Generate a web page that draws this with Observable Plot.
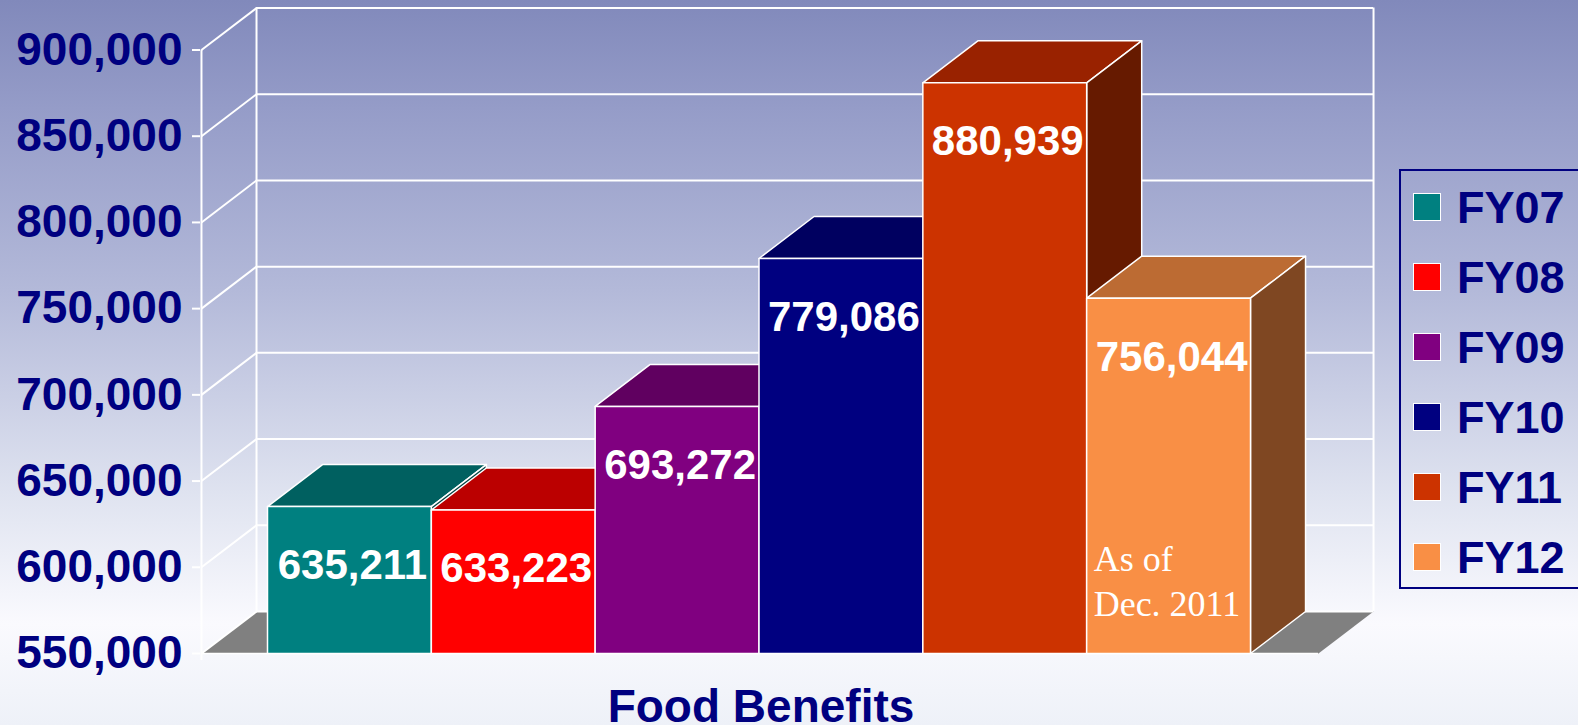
<!DOCTYPE html>
<html>
<head>
<meta charset="utf-8">
<script src="https://cdn.jsdelivr.net/npm/d3@7"></script>
<script src="https://cdn.jsdelivr.net/npm/@observablehq/plot@0.6"></script>
<style>
  html, body { margin: 0; padding: 0; overflow: hidden; background: #eef1f8; }
  #wrap {
    position: relative; width: 1578px; height: 725px; overflow: hidden;
    background: linear-gradient(to bottom, #8189bb 0%, #959cc8 15%, #b3b9d9 40%, #dfe3f0 68%, #fafafe 86%, #eef1f8 100%);
    font-family: "Liberation Sans", Arial, sans-serif;
  }
  #chart { position: absolute; left: 0; top: 0; width: 1578px; height: 672px; }
  #chart svg { max-width: none !important; width: 1578px; height: 672px; }
  #title {
    position: absolute; left: 0; width: 1522px; top: 688px; text-align: center;
    font-size: 46px; line-height: 36px; font-weight: bold; color: #000080;
  }
  #legend {
    position: absolute; left: 1399px; top: 169px; width: 200px; height: 420px;
    border: 2px solid #000080; box-sizing: border-box; padding-top: 2px;
  }
  .row { position: relative; height: 70px; }
  .sw { position: absolute; left: 12px; top: 20px; width: 28px; height: 28px; box-sizing: border-box; border: 1.5px solid #fff; }
  .lb { position: absolute; left: 56px; top: 12px; font-size: 45px; line-height: 45px; font-weight: bold; color: #000080; }
</style>
</head>
<body>
<div id="wrap">
  <div id="chart"></div>
  <div id="legend"></div>
  <div id="title">Food Benefits</div>
</div>
<script>
const categories = ["FY07", "FY08", "FY09", "FY10", "FY11", "FY12"];
const values = [635211, 633223, 693272, 779086, 880939, 756044];
const frontColors = ["#008080", "#FF0000", "#800080", "#000080", "#CC3300", "#F98F45"];
const topColors = ["#006060", "#BB0000", "#600060", "#000060", "#992200", "#BC6B33"];
const sideColors = ["#004040", "#800000", "#400040", "#000040", "#661A00", "#7F4722"];
const yTicks = [550000, 600000, 650000, 700000, 750000, 800000, 850000, 900000];
const notes = ["", "", "", "", "", "As of\nDec. 2011"];
const title = "Food Benefits";

const BASE = 550000;
const FL = -0.403, FR = 6.415;   // floor extent in bar units
const DX = 0.336;                 // depth offset, bar units
const DY = 24358;                 // depth offset, value units

const fmt = d3.format(",");
const bars = categories.map((c, i) => ({c, i, v: values[i], front: frontColors[i], top: topColors[i], side: sideColors[i], note: notes[i]}));

const poly = (pts, fill) => Plot.line(pts.map(([x, y]) => ({x, y})), {
  x: "x", y: "y", fill, stroke: "white", strokeWidth: 1.5, strokeLinejoin: "round", curve: "linear-closed"
});

const marks = [];
// floor
marks.push(Plot.line([[FL, BASE], [FR, BASE], [FR + DX, BASE + DY], [FL + DX, BASE + DY]].map(([x, y]) => ({x, y})),
  {x: "x", y: "y", fill: "#808080", stroke: "none", curve: "linear-closed"}));
// back wall grid
marks.push(Plot.ruleY(yTicks, {y: (t) => t + DY, x1: FL + DX, x2: FR + DX, stroke: "white", strokeWidth: 2}));
// side wall diagonals
marks.push(Plot.link(yTicks, {x1: FL, y1: (t) => t, x2: FL + DX, y2: (t) => t + DY, stroke: "white", strokeWidth: 2}));
// wall edges
marks.push(Plot.ruleX([FL + DX, FR + DX], {x: (d) => d, y1: BASE + DY, y2: yTicks[yTicks.length - 1] + DY, stroke: "white", strokeWidth: 2}));
marks.push(Plot.ruleX([FL], {x: (d) => d, y1: BASE - 4000, y2: yTicks[yTicks.length - 1], stroke: "white", strokeWidth: 2}));
marks.push(Plot.ruleY([BASE], {x1: FL, x2: FR, stroke: "white", strokeWidth: 1.5}));
// bars: top, side, front, left to right
for (const b of bars) {
  const x0 = b.i, x1 = b.i + 1, v = b.v;
  marks.push(poly([[x0, v], [x1, v], [x1 + DX, v + DY], [x0 + DX, v + DY]], b.top));
  marks.push(poly([[x1, BASE], [x1 + DX, BASE + DY], [x1 + DX, v + DY], [x1, v]], b.side));
  marks.push(poly([[x0, BASE], [x1, BASE], [x1, v], [x0, v]], b.front));
}
// value labels
marks.push(Plot.text(bars, {
  x: (d) => d.i + 0.5, y: "v", text: (d) => fmt(d.v), dx: 3, dy: 59,
  fill: "white", fontSize: 42, fontWeight: "bold", textAnchor: "middle", lineAnchor: "middle"
}));
// note
marks.push(Plot.text(bars.filter((d) => d.note), {
  x: "i", y: () => BASE, text: "note", dx: 7, dy: -38, lineAnchor: "bottom", lineHeight: 1.25,
  fill: "white", fontSize: 36, fontFamily: "Liberation Serif, Times New Roman, serif", textAnchor: "start"
}));
// y axis
marks.push(Plot.axisY(yTicks, {
  anchor: "left", tickSize: 8, tickPadding: 10, stroke: "white", strokeWidth: 2,
  fill: "#000080", fontSize: 46, fontWeight: "bold", tickFormat: fmt, label: null
}));

const chart = Plot.plot({
  width: 1578, height: 672,
  marginLeft: 200, marginRight: 0, marginTop: 0, marginBottom: 0,
  style: {background: "transparent", fontFamily: "Liberation Sans, Arial, sans-serif", overflow: "visible", maxWidth: "none"},
  x: {domain: [0, 6], range: [267, 1250], axis: null},
  y: {domain: [BASE, 900000], range: [653, 49.5], axis: null},
  marks
});
document.getElementById("chart").appendChild(chart);

const legend = document.getElementById("legend");
categories.forEach((c, i) => {
  const row = document.createElement("div");
  row.className = "row";
  row.innerHTML = `<div class="sw" style="background:${frontColors[i]}"></div><div class="lb">${c}</div>`;
  legend.appendChild(row);
});
document.getElementById("title").textContent = title;
</script>
</body>
</html>
